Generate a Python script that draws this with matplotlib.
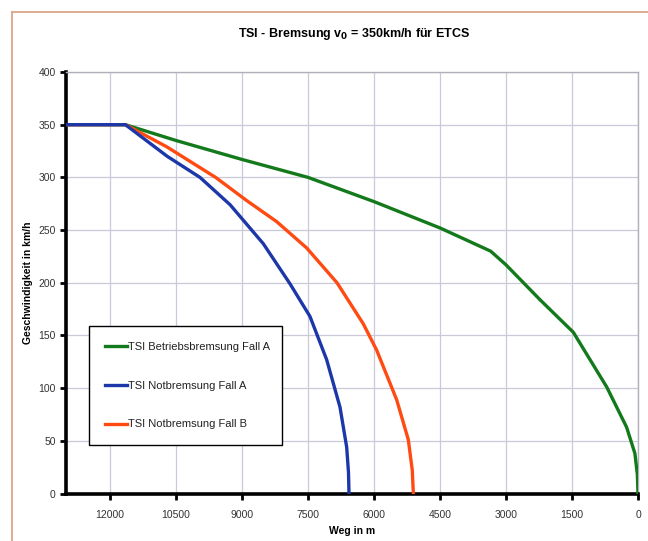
import matplotlib.pyplot as plt
from matplotlib.lines import Line2D

plt.rcParams['font.family'] = ['Liberation Sans', 'DejaVu Sans']

# Weg in m (x) and Geschwindigkeit in km/h (y)
betrieb_x = [13000, 11650, 10500, 9000, 7500, 6000, 4500, 3350, 3000, 2230, 1470, 710, 260, 70, 15, 0]
betrieb_y = [350, 350, 335, 317, 300, 277, 252, 230, 217, 184, 153, 101, 63, 38, 18, 0]

notA_x = [13000, 11650, 10700, 9955, 9270, 8515, 7909, 7455, 7076, 6773, 6621, 6580, 6568]
notA_y = [350, 350, 320, 300, 274, 237, 199, 168, 127, 82, 44, 20, 0]

notB_x = [13000, 11650, 10710, 9600, 8894, 8212, 7530, 6841, 6243, 5939, 5485, 5220, 5130, 5106]
notB_y = [350, 350, 329, 300, 278, 258, 233, 200, 161, 136, 89, 51, 22, 0]

x_ticks = [12000, 10500, 9000, 7500, 6000, 4500, 3000, 1500, 0]
y_ticks = [0, 50, 100, 150, 200, 250, 300, 350, 400]

green = '#137a1c'
blue = '#1c37a8'
orange = '#ff4a12'

fig = plt.figure(figsize=(6.48, 5.41), dpi=100)
ax = fig.add_axes([66 / 648, 1 - 493.5 / 541, 572 / 648, 421.5 / 541])

ax.plot(betrieb_x, betrieb_y, color=green, lw=2.4, label='TSI Betriebsbremsung Fall A', zorder=3)
ax.plot(notB_x, notB_y, color=orange, lw=2.4, label='TSI Notbremsung Fall B', zorder=3)
ax.plot(notA_x, notA_y, color=blue, lw=2.4, label='TSI Notbremsung Fall A', zorder=4)

ax.set_xlim(13000, 0)
ax.set_ylim(0, 400)
ax.set_xticks(x_ticks)
ax.set_yticks(y_ticks)
ax.grid(True, color='#c9c9d9', lw=0.9)
ax.set_axisbelow(True)

for s in ['left', 'bottom']:
    ax.spines[s].set_color('black')
    ax.spines[s].set_linewidth(2.6)
for s in ['top', 'right']:
    ax.spines[s].set_color('#b0b0b8')
    ax.spines[s].set_linewidth(1.0)

ax.tick_params(axis='both', direction='out', length=4, width=2, color='black',
               labelsize=7.5, labelcolor='#333333')
ax.tick_params(axis='x', pad=8)

ax.set_xlabel('Weg in m', fontsize=7.5, fontweight='bold', labelpad=4)
ax.set_ylabel('Geschwindigkeit in km/h', fontsize=7.5, fontweight='bold', labelpad=-2)
ax.yaxis.set_label_coords(-0.057, 0.5)

fig.text(354 / 648, 1 - 34 / 541, r'TSI - Bremsung v$_\mathbf{0}$ = 350km/h für ETCS',
         ha='center', va='center', fontsize=9, fontweight='bold')

handles = [Line2D([], [], color=green, lw=2.4),
           Line2D([], [], color=blue, lw=2.4),
           Line2D([], [], color=orange, lw=2.4)]
labels = ['TSI Betriebsbremsung Fall A', 'TSI Notbremsung Fall A', 'TSI Notbremsung Fall B']
leg = ax.legend(handles, labels, loc='lower left',
                bbox_to_anchor=(23 / 572, 48.5 / 421.5, 193 / 572, 122 / 421.5),
                mode='expand', fontsize=8, frameon=True, fancybox=False,
                edgecolor='black', framealpha=1, handlelength=2.0, handletextpad=0.1,
                labelspacing=2.6, borderpad=1.4, borderaxespad=0)
leg.get_frame().set_linewidth(1.0)
for t in leg.get_texts():
    t.set_color('#222222')

# outer frame (top and left only visible)
fig.add_artist(Line2D([12 / 648, 1], [1 - 12 / 541, 1 - 12 / 541], color='#d9a080', lw=1.2))
fig.add_artist(Line2D([12 / 648, 12 / 648], [0, 1 - 12 / 541], color='#d9a080', lw=1.2))

fig.savefig('out.png', dpi=100)
